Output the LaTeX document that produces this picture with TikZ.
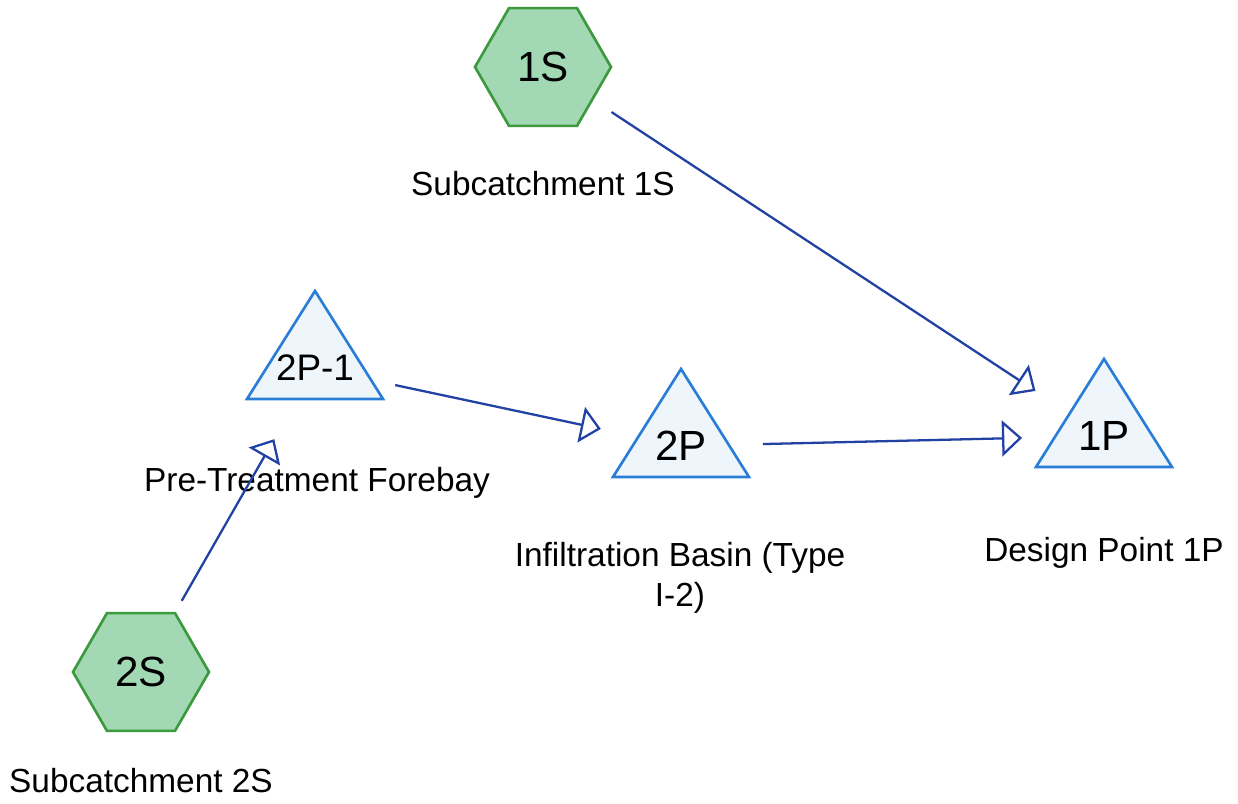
\documentclass[tikz,border=0pt]{standalone}
\definecolor{hexfill}{HTML}{A3D8B4}
\definecolor{hexline}{HTML}{3C9A3E}
\definecolor{pondfill}{HTML}{EEF6FC}
\definecolor{pondline}{HTML}{2A7DD6}
\definecolor{flow}{HTML}{2141A3}
\usepackage{fontspec}
\setmainfont{Liberation Sans}
\usepackage{tikz}
\usetikzlibrary{arrows.meta}
\usetikzlibrary{shapes.geometric}

\begin{document}
\begin{tikzpicture}[x=0.2mm, y=-0.2mm,
	subcat/.style={regular polygon, regular polygon sides=6, minimum size=27.2mm, inner sep=0pt, draw=hexline, fill=hexfill, line width=1.5pt, font=\fontsize{24}{28}\selectfont},
	pondtxt/.style={inner sep=0pt, font=\fontsize{24}{28}\selectfont},
	pond/.style={draw=pondline, fill=pondfill, line width=1.5pt},
	lbl/.style={anchor=base, inner sep=0pt, align=center, font=\fontsize{19}{22.8}\selectfont},
	flowline/.style={draw=flow, line width=1.3pt, shorten <=16.4mm, shorten >=16.4mm, -{Triangle[open, length=4mm, width=7.2mm]}}]
	\fill[white] (0,0) rectangle (1238,804);
	%ponds
	\foreach \x/\y in {315/368, 681/446, 1104/436}
	\filldraw[pond] (\x-68,\y+31) -- (\x,\y-77) -- (\x+68,\y+31) -- cycle;
	\node[pondtxt, font=\fontsize{21}{25}\selectfont] (p21) at (315,368) {2P-1};
	\node[pondtxt] (p2) at (681,446) {2P};
	\node[pondtxt] (p1) at (1104,436) {1P};
	%subcatchments
	\node[subcat] (s1) at (543,67) {1S};
	\node[subcat] (s2) at (141,672) {2S};
	%labels
	\node[lbl] (s1lbl) at (543,196) {Subcatchment 1S};
	\node[lbl] (s2lbl) at (141,793) {Subcatchment 2S};
	\node[lbl] (p21lbl) at (317,492) {Pre-Treatment Forebay};
	\node[lbl] (p2lbl) at (680,607) {Infiltration Basin (Type\\I-2)};
	\node[lbl] (p1lbl) at (1104,562) {Design Point 1P};
	%flows
	\draw[flowline] (s1.center) -- (p1.center);
	\draw[flowline] (s2.center) -- (p21.center);
	\draw[flowline] (p21.center) -- (p2.center);
	\draw[flowline] (p2.center) -- (p1.center);
\end{tikzpicture}
\end{document}
